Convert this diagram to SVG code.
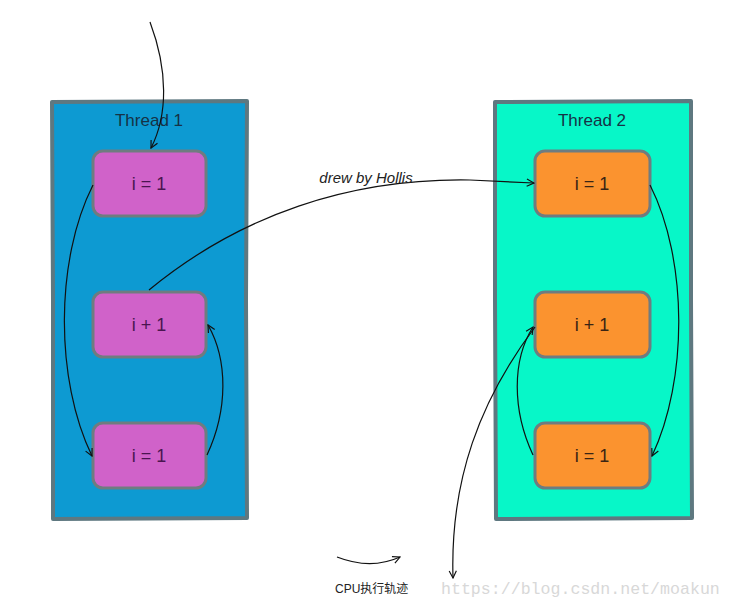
<svg xmlns="http://www.w3.org/2000/svg" width="732" height="608" viewBox="0 0 732 608">
<style>
.cont{stroke:#5e7880;stroke-width:4;stroke-linejoin:round}
.t1{fill:#0d9ad2}
.t2{fill:#07f7c8}
.box{stroke:#6f7c80;stroke-width:3}
.pk{fill:#d062c9}
.og{fill:#fb932f}
.lbl{font-family:"Liberation Sans",sans-serif;font-size:18px;text-anchor:middle}
.ttl{font-family:"Liberation Sans",sans-serif;font-size:17px;text-anchor:middle;fill:#163246}
.c{fill:none;stroke:#111;stroke-width:1.2}
</style>
<defs>
<marker id="ah" viewBox="0 0 10 10" refX="9" refY="5" markerWidth="9" markerHeight="9" orient="auto" markerUnits="userSpaceOnUse">
<path d="M1,1 L9,5 L1,9" fill="none" stroke="#111" stroke-width="1.3"/>
</marker>
</defs>
<rect width="732" height="608" fill="#fff"/>
<g id="thread1">
<path class="cont t1" d="M52,102 L247,101 L246,300 L247,518 L53,519 L53,300 Z"/>
<text class="ttl" x="149" y="126">Thread 1</text>
</g>
<g id="thread2">
<path class="cont t2" d="M495,102 L691,101 L691,300 L692,518 L496,519 L495,300 Z"/>
<text class="ttl" x="592" y="126">Thread 2</text>
</g>
<g id="t1a"><rect class="box pk" x="93" y="151" width="113" height="65" rx="10"/><text class="lbl" x="149" y="190" fill="#4a1550">i = 1</text></g>
<g id="t1b"><rect class="box pk" x="93" y="292" width="113" height="65" rx="10"/><text class="lbl" x="149" y="331" fill="#4a1550">i + 1</text></g>
<g id="t1c"><rect class="box pk" x="93" y="423" width="113" height="65" rx="10"/><text class="lbl" x="149" y="462" fill="#4a1550">i = 1</text></g>
<g id="t2a"><rect class="box og" x="535" y="151" width="115" height="65" rx="10"/><text class="lbl" x="592" y="190" fill="#3a2414">i = 1</text></g>
<g id="t2b"><rect class="box og" x="535" y="292" width="115" height="65" rx="10"/><text class="lbl" x="592" y="331" fill="#3a2414">i + 1</text></g>
<g id="t2c"><rect class="box og" x="535" y="423" width="115" height="65" rx="10"/><text class="lbl" x="592" y="462" fill="#3a2414">i = 1</text></g>
<g id="connectors">
<path class="c" marker-end="url(#ah)" d="M150,22 C168,70 168,115 151,148"/>
<path class="c" marker-end="url(#ah)" d="M93,185 C55,260 55,380 92,456"/>
<path class="c" marker-end="url(#ah)" d="M207,455 C228,410 228,360 208,325"/>
<path class="c" marker-end="url(#ah)" d="M149,290 C240,215 350,178 470,180 L534,183"/>
<path class="c" marker-end="url(#ah)" d="M650,185 C688,260 688,380 652,456"/>
<path class="c" marker-end="url(#ah)" d="M533,455 C512,410 512,360 533,327"/>
<path class="c" marker-end="url(#ah)" d="M535,327 C480,400 450,480 453,578"/>
<path class="c" marker-end="url(#ah)" d="M337,557 C360,566 380,566 400,557"/>
</g>
<text x="366" y="183" font-family="Liberation Sans,sans-serif" font-size="15" font-style="italic" text-anchor="middle" fill="#222">drew by Hollis</text>
<text x="335" y="593" font-family="Liberation Sans,Noto Sans CJK SC,sans-serif" font-size="12" fill="#222">CPU执行轨迹</text>
<text x="441" y="594" font-family="Liberation Mono,monospace" font-size="16.6" fill="#d8d8d8">https://blog.csdn.net/moakun</text>
</svg>
